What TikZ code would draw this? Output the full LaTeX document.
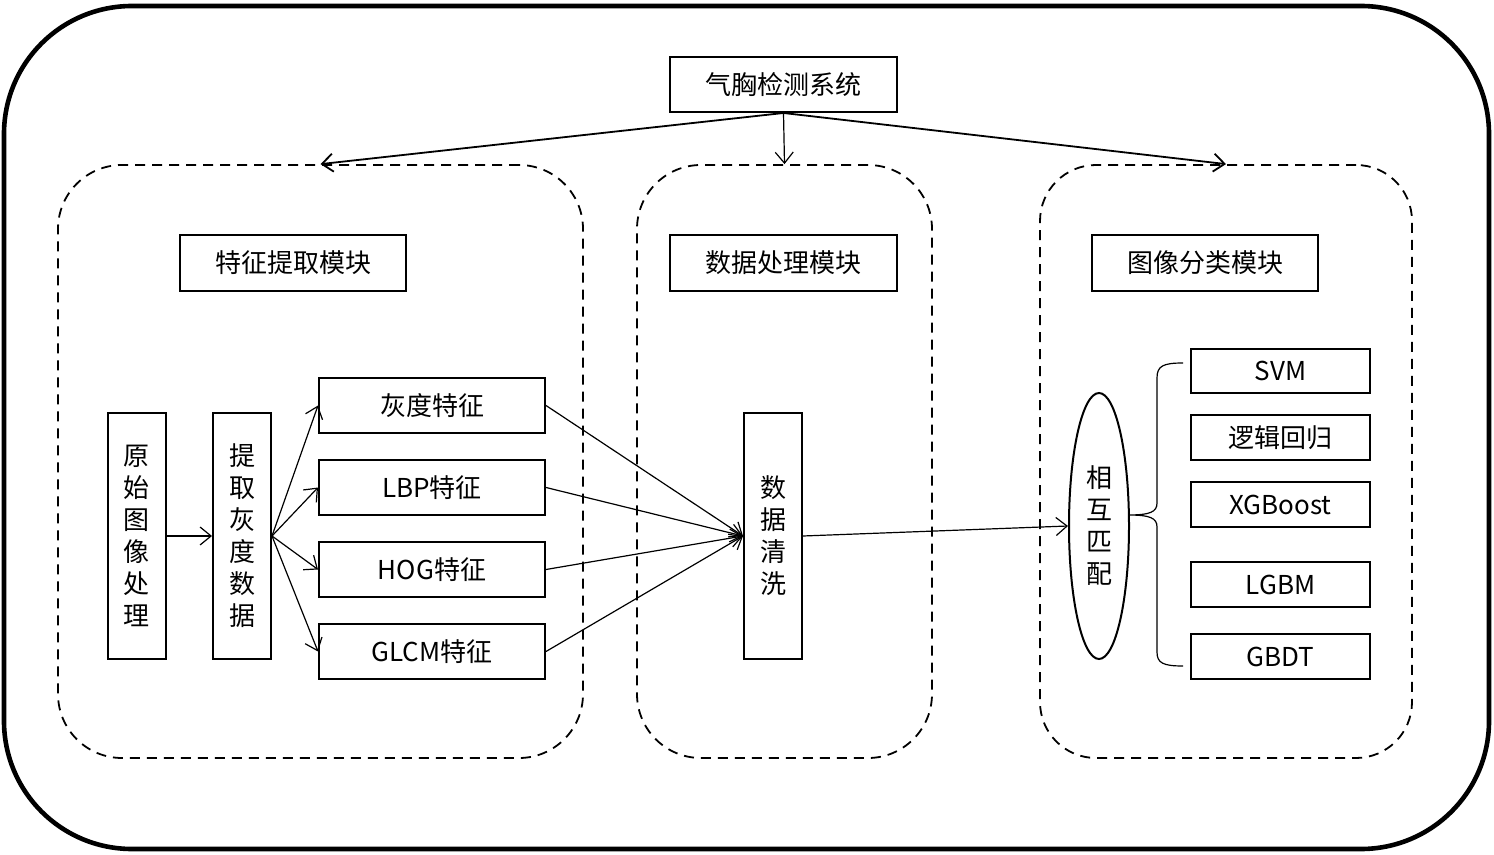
\documentclass[tikz,border=0pt]{standalone}
\usepackage{fontspec}
\setmainfont{Noto Sans CJK SC}
\usetikzlibrary{arrows.meta,shapes.geometric}
\begin{document}
\begin{tikzpicture}[x=0.5pt,y=-0.5pt,
  box/.style={draw,line width=1pt,inner sep=0pt,font=\fontsize{13}{16}\selectfont},
  vbox/.style={box,align=center,minimum width=29pt,minimum height=123pt},
  feat/.style={box,minimum width=113pt,minimum height=27.5pt},
  clf/.style={box,minimum width=89.5pt,minimum height=22.5pt},
  group/.style={draw,line width=0.9pt,dash pattern=on 5pt off 3.5pt,rounded corners=32pt,inner sep=0pt},
  arr/.style={line width=0.6pt,-{Straight Barb[length=5.5pt,width=9pt]}},
  tarr/.style={line width=0.9pt,-{Straight Barb[length=5.5pt,width=9pt]}}]
\useasboundingbox (0,0) rectangle (1494,855);
% outer frame
\draw[line width=2.3pt,rounded corners=64pt] (4,6) rectangle (1489,849);
% groups
\node[group,minimum width=262.5pt,minimum height=296.5pt] (d1) at (320.5,461.5) {};
\node[group,minimum width=147.5pt,minimum height=296.5pt] (d2) at (784.5,461.5) {};
\node[group,minimum width=186pt,minimum height=296.5pt,rounded corners=28pt] (d3) at (1226,461.5) {};
% top
\node[box,minimum width=113.5pt,minimum height=27.5pt] (sys) at (783.5,84.5) {气胸检测系统};
\node[box,minimum width=113pt,minimum height=28pt] (m1) at (293,263) {特征提取模块};
\node[box,minimum width=113.5pt,minimum height=28pt] (m2) at (783.5,263) {数据处理模块};
\node[box,minimum width=113pt,minimum height=28pt] (m3) at (1205,263) {图像分类模块};
% feature module
\node[vbox] (raw) at (136.5,536) {原\\始\\图\\像\\处\\理};
\node[vbox] (ext) at (242,536) {提\\取\\灰\\度\\数\\据};
\node[feat] (f1) at (432,405.5) {灰度特征};
\node[feat] (f2) at (432,487.5) {LBP特征};
\node[feat] (f3) at (432,569.5) {HOG特征};
\node[feat] (f4) at (432,651.5) {GLCM特征};
% data module
\node[vbox] (clean) at (773,536) {数\\据\\清\\洗};
% classification module
\node[ellipse,draw,line width=1pt,inner sep=0pt,minimum width=30pt,minimum height=133pt,align=center,font=\fontsize{13}{16}\selectfont] (match) at (1099,526) {相\\互\\匹\\配};
\node[clf,minimum height=22pt] (svm) at (1280.5,371) {SVM};
\node[clf] (lr) at (1280.5,437.5) {逻辑回归};
\node[clf] (xgb) at (1280.5,504.5) {XGBoost};
\node[clf] (lgbm) at (1280.5,584.5) {LGBM};
\node[clf] (gbdt) at (1280.5,656.5) {GBDT};
% connectors
\draw[tarr] (sys.south) -- (d1.north);
\draw[arr] (sys.south) -- (d2.north);
\draw[tarr] (sys.south) -- (d3.north);
\draw[arr] (raw.east) -- (ext.east -| ext.west);
\foreach \f in {f1,f2,f3,f4} {
  \draw[arr] (ext.east) -- (\f.west);
  \draw[arr] (\f.east) -- (clean.west);
}
\draw[arr] (clean.east) -- (match.west);
% brace
\coordinate (btop) at (1183,363);
\coordinate (bbot) at (1183,666);
\coordinate (btip) at (1128,515);
\draw[line width=0.6pt] (btop) .. controls (1163,363) and (1157,366) .. (1157,378)
  -- (1157,503) .. controls (1157,512) and (1150,515) .. (btip)
  .. controls (1150,515) and (1157,518) .. (1157,527)
  -- (1157,652) .. controls (1157,663) and (1163,666) .. (bbot);
\end{tikzpicture}
\end{document}
